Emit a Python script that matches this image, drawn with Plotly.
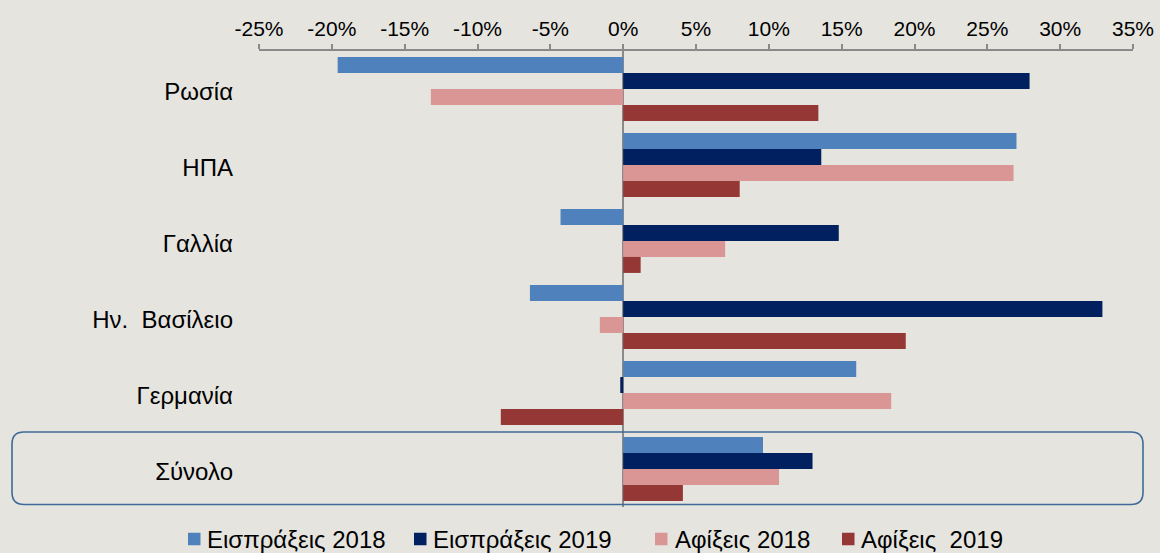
import plotly.graph_objects as go

# ---- data (percent change) ----
categories = ["Ρωσία", "ΗΠΑ", "Γαλλία", "Ην.\u00a0 Βασίλειο", "Γερμανία", "Σύνολο"]
eisprakseis_2018 = [-19.6, 27.0, -4.3, -6.4, 16.0, 9.6]
eisprakseis_2019 = [27.9, 13.6, 14.8, 32.9, -0.2, 13.0]
afikseis_2018 = [-13.2, 26.8, 7.0, -1.6, 18.4, 10.7]
afikseis_2019 = [13.4, 8.0, 1.2, 19.4, -8.4, 4.1]
series_names = ["Εισπράξεις 2018", "Εισπράξεις 2019", "Αφίξεις 2018", "Αφίξεις\u00a0 2019"]
tick_values = [-25, -20, -15, -10, -5, 0, 5, 10, 15, 20, 25, 30, 35]
tick_labels = [f"{v}%" for v in tick_values]

colors = ["#4F81BD", "#002060", "#DA9694", "#953735"]
series = [eisprakseis_2018, eisprakseis_2019, afikseis_2018, afikseis_2019]

BG = "#E5E4DF"
FONT = "Liberation Sans, Arial, sans-serif"

fig = go.Figure()
for name, vals, col in zip(series_names, series, colors):
    fig.add_trace(go.Bar(
        y=categories, x=vals, name=name, orientation="h",
        marker=dict(color=col, line=dict(width=0)),
    ))

W, H = 1160, 553
ml, mr, mt, mb = 259, 27, 51, 46
pw, ph = W - ml - mr, H - mt - mb


def px_x(p):
    return (p - ml) / pw


def px_y(p):
    return (H - mb - p) / ph


fig.update_layout(
    width=W, height=H,
    margin=dict(l=ml, r=mr, t=mt, b=mb, pad=0, autoexpand=False),
    paper_bgcolor=BG, plot_bgcolor=BG,
    barmode="group", bargap=0.16, bargroupgap=0,
    font=dict(family=FONT, color="#000000", size=20),
    showlegend=False,
)

fig.update_xaxes(
    side="top", range=[-25, 35], tickvals=tick_values, ticktext=tick_labels,
    showgrid=False, showline=True, linecolor="#8A8A8A", linewidth=1.5,
    ticks="outside", ticklen=5, tickcolor="#8A8A8A", tickwidth=1.5,
    zeroline=True, zerolinecolor="#8A8A8A", zerolinewidth=2,
    tickfont=dict(size=21, family=FONT, color="#000"),
    fixedrange=True, automargin=False,
)
fig.update_yaxes(
    autorange="reversed", showgrid=False, showline=False, ticks="",
    zeroline=False, tickfont=dict(size=24, family=FONT, color="#000"),
    ticklabelstandoff=25, ticklabelshift=-3, fixedrange=True, automargin=False,
)

# legend drawn as colour squares + labels (Excel-style spacing)
legend_square_px = [188, 414, 655, 842]
legend_text_px = [205, 431, 673, 859]
legend_y_px = 539
sq = 12.5
for name, col, sx, tx in zip(series_names, colors, legend_square_px, legend_text_px):
    fig.add_shape(type="rect", xref="paper", yref="paper",
                  x0=px_x(sx), x1=px_x(sx + sq),
                  y0=px_y(legend_y_px + sq / 2), y1=px_y(legend_y_px - sq / 2),
                  fillcolor=col, line=dict(width=0))
    fig.add_annotation(text=name, xref="paper", yref="paper",
                       x=px_x(tx), y=px_y(legend_y_px), xanchor="left", yanchor="middle",
                       showarrow=False, font=dict(size=24, family=FONT, color="#000"))

# rounded highlight box around "Σύνολο"
x0 = px_x(12)
x1 = px_x(1143)
y1 = px_y(432)
y0 = px_y(504.5)
rx = 12 / pw
ry = 12 / ph
path = (f"M {x0+rx},{y1} L {x1-rx},{y1} Q {x1},{y1} {x1},{y1-ry} "
        f"L {x1},{y0+ry} Q {x1},{y0} {x1-rx},{y0} L {x0+rx},{y0} "
        f"Q {x0},{y0} {x0},{y0+ry} L {x0},{y1-ry} Q {x0},{y1} {x0+rx},{y1} Z")
fig.add_shape(type="path", path=path, xref="paper", yref="paper",
              line=dict(color="#3F6A98", width=1.6), fillcolor="rgba(0,0,0,0)",
              layer="above")

fig.write_html("out.html", config={"displayModeBar": False},
               post_script="document.body.style.margin='0';document.body.style.overflow='hidden';")
